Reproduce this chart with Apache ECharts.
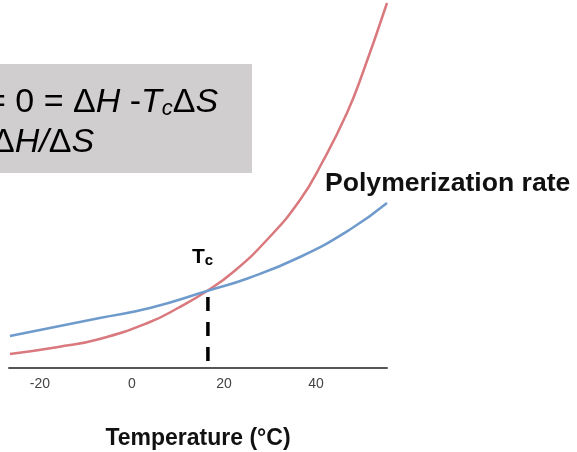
<!DOCTYPE html>
<html>
<head>
<meta charset="utf-8" />
<title>Tc chart</title>
<style>
  html, body { margin: 0; padding: 0; background: #fff; }
  #chart { width: 577px; height: 452px; }
</style>
<script src="https://cdn.jsdelivr.net/npm/echarts@6/dist/echarts.min.js"></script>
</head>
<body>
<div id="chart"></div>
<script>
// values (y in arbitrary rate units)
var redTemps  = [-26.5, -16.0, -7.0, 3.9, 10.0, 16.3, 22.0, 29.3, 36.5, 41.5, 46.7, 50.2, 55.4];
var redRates  = [14, 21, 29, 46, 60, 77, 96, 128, 168, 207, 255, 296, 365];
var blueTemps = [-26.5, -7.0, 3.9, 16.3, 25.4, 36.5, 47.2, 55.4];
var blueRates = [32, 50, 60, 77, 90, 111, 138, 165];
var tcTemp = 16.5;
var dashRates = [71, 0];
var tickValues = [-20, 0, 20, 40];

function pairs(xs, ys) {
  return xs.map(function (x, i) { return [x, ys[i]]; });
}

var chart = echarts.init(document.getElementById('chart'));

var option = {
  animation: false,
  grid: { left: 9, right: 190, top: 0, bottom: 84, outerBoundsMode: 'none', containLabel: false },
  xAxis: {
    type: 'value',
    min: -26.7,
    max: 55.4,
    name: 'Temperature (°C)',
    nameLocation: 'middle',
    nameGap: 59,
    nameTextStyle: { fontFamily: 'Liberation Sans', fontWeight: 'bold', fontSize: 23, color: '#111' },
    axisLine: { show: true, lineStyle: { color: '#555', width: 2 } },
    axisTick: { show: false },
    splitLine: { show: false },
    axisLabel: {
      customValues: tickValues,
      margin: 9,
      fontFamily: 'Liberation Sans',
      fontSize: 14,
      color: '#444'
    }
  },
  yAxis: {
    type: 'value',
    min: 0,
    max: 368,
    show: false,
    splitLine: { show: false }
  },
  series: [
    {
      type: 'line',
      data: pairs(redTemps, redRates),
      smooth: true,
      showSymbol: false,
      lineStyle: { color: '#d9787d', width: 2.5 }
    },
    {
      type: 'line',
      data: pairs(blueTemps, blueRates),
      smooth: true,
      showSymbol: false,
      lineStyle: { color: '#6f9bcc', width: 2.5 }
    },
    {
      type: 'line',
      data: dashRates.map(function (v) { return [tcTemp, v]; }),
      showSymbol: false,
      lineStyle: { color: '#000', width: 3.5, type: [14, 11] }
    }
  ],
  graphic: [
    {
      type: 'rect',
      shape: { x: 0, y: 64, width: 252, height: 109 },
      style: { fill: '#d0cece' },
      z: 0
    },
    {
      type: 'text',
      x: -14, y: 84,
      style: {
        text: '{n|= 0 = Δ}{i|H}{n| -}{i|T}{s|c}{n|Δ}{i|S}',
        rich: {
          n: { fontFamily: 'Liberation Sans', fontSize: 34, lineHeight: 36, color: '#111', verticalAlign: 'bottom' },
          i: { fontFamily: 'Liberation Sans', fontStyle: 'italic', fontSize: 34, lineHeight: 36, color: '#111', verticalAlign: 'bottom' },
          s: { fontFamily: 'Liberation Sans', fontStyle: 'italic', fontSize: 22, lineHeight: 14, color: '#111', verticalAlign: 'bottom' }
        }
      },
      z: 5
    },
    {
      type: 'text',
      x: -8, y: 125,
      style: {
        text: '{n|Δ}{i|H/}{n|Δ}{i|S}',
        rich: {
          n: { fontFamily: 'Liberation Sans', fontSize: 34, lineHeight: 36, color: '#111' },
          i: { fontFamily: 'Liberation Sans', fontStyle: 'italic', fontSize: 34, lineHeight: 36, color: '#111' }
        }
      },
      z: 5
    },
    {
      type: 'text',
      x: 325, y: 184,
      style: {
        text: 'Polymerization rate',
        fontFamily: 'Liberation Sans',
        fontWeight: 'bold',
        fontSize: 26.6,
        fill: '#111',
        verticalAlign: 'middle'
      },
      z: 5
    },
    {
      type: 'text',
      x: 192, y: 244,
      style: {
        text: '{t|T}{c|c}',
        rich: {
          t: { fontFamily: 'Liberation Sans', fontWeight: 'bold', fontSize: 21, lineHeight: 24, color: '#111', verticalAlign: 'bottom' },
          c: { fontFamily: 'Liberation Sans', fontWeight: 'bold', fontSize: 15, lineHeight: 8, color: '#111', verticalAlign: 'bottom' }
        }
      },
      z: 5
    }
  ]
};

chart.setOption(option);
window.onresize = function () { chart.resize(); };
</script>
</body>
</html>
